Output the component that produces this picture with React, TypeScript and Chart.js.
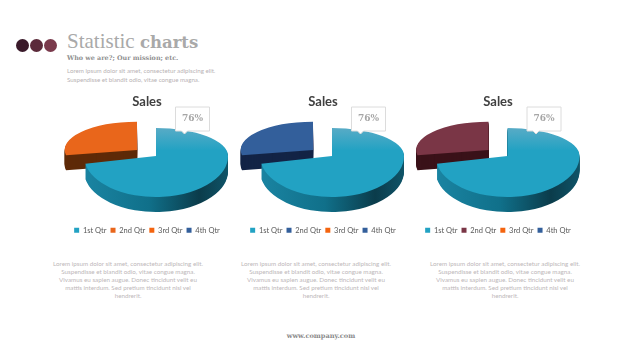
import React, { useEffect, useRef } from "react";
import { Chart, registerables } from "chart.js";

Chart.register(...registerables);

const categories = ["1st Qtr", "2nd Qtr", "3rd Qtr", "4th Qtr"];
const salesValues = [8.2, 3.2, 0, 0];
const calloutLabel = "76%";
const firstColor = "#22a2c3";
const thirdColor = "#f4640f";
const fourthColor = "#335f9b";
const secondColors = ["#e9661b", "#335f9b", "#7a3646"];
const secondWalls = ["#5e2a08", "#132446", "#3a1219"];
const bodyLines = [
  "Lorem ipsum dolor sit amet, consectetur adipiscing elit.",
  "Suspendisse et blandit odio, vitae congue magna.",
  "Vivamus eu sapien augue. Donec tincidunt velit eu",
  "mattis interdum. Sed pretium tincidunt nisl vel",
  "hendrerit.",
];

const CANVAS_W = 190;
const CANVAS_H = 152;
const CANVAS_TOP = 92;
const CENTER_Y = 64; // pie centre, canvas coordinates
const UP = 28 / 72;
const DOWN = 41 / 72;
const DEPTH = 15;

function App() {
  return (
    <div style={{ position: "absolute", left: 0, top: 0, width: 640, height: 360, background: "#fff", overflow: "hidden" }}>
      {["#3a1a2a", "#5b2a3a", "#7a3a4c"].map((c, i) => (
        <div key={c} style={{ position: "absolute", left: 15.5 + i * 14, top: 38.5, width: 13, height: 13, borderRadius: "50%", background: c }} />
      ))}
      <div style={{ position: "absolute", left: 67, top: 28, fontFamily: "'Liberation Serif'", fontSize: 21, lineHeight: "26px", color: "#a9a9a9", whiteSpace: "nowrap" }}>
        Statistic <span style={{ fontFamily: "'DejaVu Serif'", fontWeight: 700, fontSize: 16.5 }}>charts</span>
      </div>
      <div style={{ position: "absolute", left: 67, top: 53, fontFamily: "'DejaVu Serif'", fontWeight: 700, fontSize: 6.4, lineHeight: "10px", color: "#8f8f8f", whiteSpace: "nowrap" }}>
        Who we are?; Our mission; etc.
      </div>
      <div style={{ position: "absolute", left: 67, top: 67, fontFamily: "Lato", fontSize: 6.2, lineHeight: "8.5px", color: "#b8b2b4", whiteSpace: "nowrap" }}>
        Lorem ipsum dolor sit amet, consectetur adipiscing elit.<br />Suspendisse et blandit odio, vitae congue magna.
      </div>
      <PieChart left={52} cx={104} second={0} />
      <PieChart left={228} cx={104} second={1} />
      <PieChart left={403} cx={104.5} second={2} />
      {[128, 316, 505].map((x) => (
        <div key={x} style={{ position: "absolute", left: x - 90, top: 260, width: 180, textAlign: "center", fontFamily: "Lato", fontSize: 6.25, lineHeight: "8px", color: "#bdb7b9" }}>
          {bodyLines.map((l) => (
            <div key={l} style={{ whiteSpace: "nowrap" }}>{l}</div>
          ))}
        </div>
      ))}
      <div style={{ position: "absolute", left: 221, top: 331, width: 200, textAlign: "center", fontFamily: "'DejaVu Serif'", fontWeight: 700, fontSize: 6.6, lineHeight: "10px", color: "#8a8a8a" }}>
        www.company.com
      </div>
    </div>
  );
}

function PieChart({ left, cx, second }: { left: number; cx: number; second: number }) {
  const ref = useRef<HTMLCanvasElement>(null);
  useEffect(() => {
    const pie3d = {
      id: "pie3d",
      beforeDatasetDraw(chart: any, args: any) {
        const ctx = chart.ctx;
        const arcs = args.meta.data;
        const paint = (arc: any, d: number, fill: any) => {
          const saved = arc.options;
          arc.options = {
            backgroundColor: fill, borderColor: "transparent", borderWidth: 0, offset: saved.offset,
            spacing: 0, borderRadius: 0, borderAlign: "center", circular: true,
            borderDash: [], borderDashOffset: 0, borderJoinStyle: "round",
          };
          [UP, DOWN].forEach((k) => {
            ctx.save();
            ctx.beginPath();
            if (k === UP) ctx.rect(0, -50, CANVAS_W, CENTER_Y + d + 50);
            else ctx.rect(0, CENTER_Y + d, CANVAS_W, CANVAS_H);
            ctx.clip();
            ctx.translate(cx, CENTER_Y + d);
            ctx.scale(1, k);
            ctx.translate(-arc.x, -arc.y);
            arc.draw(ctx);
            ctx.restore();
          });
          arc.options = saved;
        };
        const big = arcs[0];
        const R = big.outerRadius;
        const wallGrad = ctx.createLinearGradient(big.x - R, 0, big.x + R, 0);
        wallGrad.addColorStop(0, "#1a84a2");
        wallGrad.addColorStop(0.45, "#10708a");
        wallGrad.addColorStop(0.8, "#0b3c4b");
        wallGrad.addColorStop(1, "#0f5468");
        const topGrad = ctx.createLinearGradient(0, big.y - R, 0, big.y + R);
        topGrad.addColorStop(0, "#58abc6");
        topGrad.addColorStop(0.4, firstColor);
        topGrad.addColorStop(1, firstColor);
        for (let d = DEPTH; d >= 1; d--) paint(arcs[1], d, secondWalls[second]);
        paint(arcs[1], 0, secondColors[second]);
        for (let d = DEPTH; d >= 1; d--) paint(big, d, wallGrad);
        paint(big, 0, topGrad);
        return false;
      },
      afterDraw(chart: any) {
        const ctx = chart.ctx;
        const bx = cx + 19.5;
        const by = 107 - CANVAS_TOP;
        const bw = 34;
        const bh = 24;
        ctx.save();
        ctx.beginPath();
        ctx.moveTo(bx, by);
        ctx.lineTo(bx + bw, by);
        ctx.lineTo(bx + bw, by + bh);
        ctx.lineTo(bx + 12, by + bh);
        ctx.lineTo(bx + 9, by + bh + 3);
        ctx.lineTo(bx + 6, by + bh);
        ctx.lineTo(bx, by + bh);
        ctx.closePath();
        ctx.fillStyle = "#ffffff";
        ctx.fill();
        ctx.strokeStyle = "#dcdcdc";
        ctx.lineWidth = 1;
        ctx.stroke();
        ctx.fillStyle = "#a6a6a6";
        ctx.font = "700 9px 'DejaVu Serif'";
        ctx.textAlign = "center";
        ctx.textBaseline = "middle";
        ctx.fillText(calloutLabel, bx + bw / 2, by + 12);
        ctx.restore();
      },
    };
    const chart = new Chart(ref.current as HTMLCanvasElement, {
      type: "pie",
      data: {
        labels: categories,
        datasets: [
          {
            data: salesValues,
            backgroundColor: [firstColor, secondColors[second], thirdColor, fourthColor],
            borderWidth: 0,
            offset: [0, 98, 0, 0],
            radius: 72,
          } as any,
        ],
      },
      options: {
        animation: false,
        responsive: false,
        layout: { padding: 0 },
        plugins: {
          title: { display: true, text: "Sales", color: "#404040", font: { family: "Lato", size: 13, weight: "bold" }, padding: { top: 2, bottom: 2 } },
          legend: {
            position: "bottom",
            labels: { boxWidth: 5, boxHeight: 5, padding: 4, color: "#595959", font: { family: "Lato", size: 7.5 } },
          },
          tooltip: { enabled: false },
        },
      },
      plugins: [pie3d],
    } as any);
    return () => chart.destroy();
  }, [cx, second]);
  return (
    <canvas
      ref={ref}
      width={CANVAS_W}
      height={CANVAS_H}
      style={{ position: "absolute", left, top: CANVAS_TOP, width: CANVAS_W, height: CANVAS_H }}
    />
  );
}

export default App;
